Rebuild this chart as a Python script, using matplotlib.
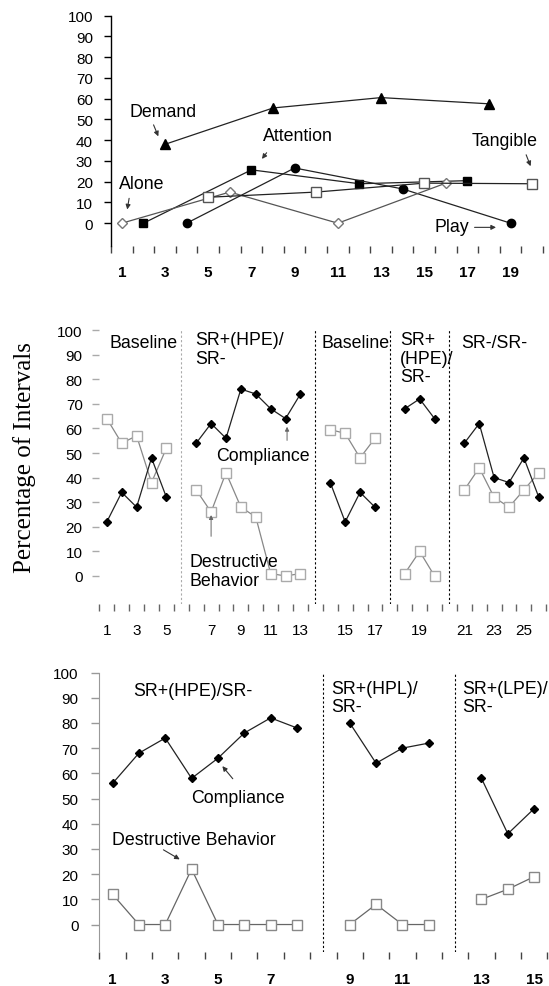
import matplotlib
matplotlib.use("Agg")
import numpy as np
import matplotlib.pyplot as plt

plt.rcParams['font.family'] = ['Liberation Sans', 'DejaVu Sans']

# ---- panel 1: functional analysis ----
demand_x = [3, 8, 13, 18]
demand = [38, 55.5, 60.5, 57.5]
attention_x = [2, 7, 12, 17]
attention = [0, 25.7, 19, 20.5]
play_x = [4, 9, 14, 19]
play = [0, 26.6, 16.5, 0]
alone_x = [1, 6, 11, 16]
alone = [0, 15, 0, 19.3]
tangible_x = [5, 10, 15, 20]
tangible = [12.5, 15, 19.3, 19]
p1_ticks = [1, 3, 5, 7, 9, 11, 13, 15, 17, 19]

# ---- panel 2: sessions split by phase ----
p2_phase_names = ['Baseline', 'SR+(HPE)/\nSR-', 'Baseline', 'SR+\n(HPE)/\nSR-', 'SR-/SR-']
p2_compliance = [[22, 34, 28, 48, 32],
                 [54, 62, 56, 76, 74, 68, 64, 74],
                 [38, 22, 34, 28],
                 [68, 72, 64],
                 [54, 62, 40, 38, 48, 32]]
p2_destructive = [[64, 54, 57, 38, 52],
                  [35, 26, 42, 28, 24, 1, 0, 1],
                  [59.5, 58, 48, 56],
                  [1, 10, 0],
                  [35, 44, 32, 28, 35, 42]]
p2_labels = [1, 3, 5, 7, 9, 11, 13, 15, 17, 19, 21, 23, 25]

# ---- panel 3 ----
p3_phase_names = ['SR+(HPE)/SR-', 'SR+(HPL)/\nSR-', 'SR+(LPE)/\nSR-']
p3_compliance = [[56, 68, 74, 58, 66, 76, 82, 78],
                 [80, 64, 70, 72],
                 [58, 36, 46]]
p3_destructive = [[12, 0, 0, 22, 0, 0, 0, 0],
                  [0, 8, 0, 0],
                  [10, 14, 19]]
p3_labels = [1, 3, 5, 7, 9, 11, 13, 15]


def phase_positions(phases):
    # one empty slot between phases
    pos, s = [], 1
    for k, ph in enumerate(phases):
        pos.append([s + i + k for i in range(len(ph))])
        s += len(ph)
    return pos


def session_to_pos(phases, session):
    s = 1
    for k, ph in enumerate(phases):
        if session < s + len(ph):
            return session + k
        s += len(ph)


fig = plt.figure(figsize=(5.49, 9.87), dpi=100)

# ================= panel 1 =================
ax1 = fig.add_axes([0.2022, 0.7497, 0.787, 0.2335])
lc = '#222222'
ax1.plot(demand_x, demand, '-', color=lc, lw=0.9, marker='^', ms=6.5, mfc='black', mec='black', zorder=3)
ax1.plot(attention_x, attention, '-', color=lc, lw=0.9, marker='s', ms=6, mfc='black', mec='black', zorder=3)
ax1.plot(play_x, play, '-', color=lc, lw=0.9, marker='o', ms=6, mfc='black', mec='black', zorder=3)
ax1.plot(alone_x, alone, '-', color='#555555', lw=0.9, marker='D', ms=5, mfc='white', mec='#777777', zorder=3)
ax1.plot(tangible_x, tangible, '-', color=lc, lw=0.9, marker='s', ms=6.5, mfc='white', mec='#555555', zorder=3)

ax1.set_xlim(0.5, 20.5)
ax1.set_ylim(-11, 100)
ax1.set_yticks(range(0, 101, 10))
ax1.set_xticks(p1_ticks)
ax1.set_xticklabels([str(t) for t in p1_ticks], fontweight='bold', fontsize=11)
ax1.set_xticks(np.arange(0.5, 21, 1), minor=True)
ax1.tick_params(axis='x', which='major', length=0, pad=14)
ax1.tick_params(axis='x', which='minor', length=5, width=1, color='#444444')
ax1.tick_params(axis='y', length=5, width=1, labelsize=11, pad=8)
for sp in ['top', 'right', 'bottom']:
    ax1.spines[sp].set_visible(False)
ax1.spines['left'].set_linewidth(1)

arr = dict(arrowstyle='-|>', color='#333333', lw=0.8, mutation_scale=7)
ax1.text(2.9, 54, 'Demand', fontsize=12.8, ha='center', va='center')
ax1.annotate('', xy=(2.74, 40.6), xytext=(2.42, 48.6), arrowprops=arr)
ax1.text(9.16, 42.2, 'Attention', fontsize=12.8, ha='center', va='center')
ax1.annotate('', xy=(7.41, 29.9), xytext=(7.78, 35), arrowprops=arr)
ax1.text(18.7, 39.8, 'Tangible', fontsize=12.8, ha='center', va='center')
ax1.annotate('', xy=(19.97, 26.2), xytext=(19.67, 34.2), arrowprops=arr)
ax1.text(1.91, 19.3, 'Alone', fontsize=12.8, ha='center', va='center')
ax1.annotate('', xy=(1.23, 5.3), xytext=(1.36, 13.3), arrowprops=arr)
ax1.text(16.26, -1.6, 'Play', fontsize=12.8, ha='center', va='center')
ax1.annotate('', xy=(18.45, -2), xytext=(17.2, -2), arrowprops=arr)

# ================= panel 2 =================
ax2 = fig.add_axes([0.181, 0.3870, 0.814, 0.2776])
pos2 = phase_positions(p2_compliance)
for k in range(len(p2_compliance)):
    ax2.plot(pos2[k], p2_destructive[k], '-', color='#888888', lw=0.9, marker='s', ms=6.5,
             mfc='white', mec='#aaaaaa', zorder=2)
    ax2.plot(pos2[k], p2_compliance[k], '-', color='#222222', lw=0.9, marker='D', ms=4.5,
             mfc='black', mec='black', zorder=3)

# phase change lines
for k in range(1, len(pos2)):
    xv = pos2[k][0] - 1
    col = '#aaaaaa' if k == 1 else 'black'
    ax2.plot([xv, xv], [-11.4, 100], color=col, lw=0.8, ls=(0, (2, 2)), zorder=1)

ax2.set_xlim(0.5, 30.5)
ax2.set_ylim(-11.4, 100)
ax2.set_yticks(range(0, 101, 10))
ax2.set_xticks([session_to_pos(p2_compliance, s) for s in p2_labels])
ax2.set_xticklabels([str(s) for s in p2_labels], fontsize=11)
ax2.set_xticks(np.arange(0.5, 31, 1), minor=True)
ax2.tick_params(axis='x', which='major', length=0, pad=14)
ax2.tick_params(axis='x', which='minor', length=5, width=1, color='#666666')
ax2.tick_params(axis='y', length=5, width=1, color='#aaaaaa', labelsize=11, pad=7)
for sp in ['top', 'right', 'bottom', 'left']:
    ax2.spines[sp].set_visible(False)

ax2.text(1.19, 95, p2_phase_names[0], fontsize=12.8, ha='left', va='center')
ax2.text(6.9, 99.5, p2_phase_names[1], fontsize=12.8, ha='left', va='top', linespacing=1.1)
ax2.text(15.4, 95, p2_phase_names[2], fontsize=12.8, ha='left', va='center')
ax2.text(20.7, 99.5, p2_phase_names[3], fontsize=12.8, ha='left', va='top', linespacing=1.1)
ax2.text(24.8, 95, p2_phase_names[4], fontsize=12.8, ha='left', va='center')

arr2 = dict(arrowstyle='-|>', color='#666666', lw=0.7, mutation_scale=6)
ax2.text(11.46, 48.9, 'Compliance', fontsize=12.8, ha='center', va='center')
ax2.annotate('', xy=(13.1, 61.8), xytext=(13.1, 54), arrowprops=arr2)
ax2.text(6.52, 9.2, 'Destructive\nBehavior', fontsize=12.8, ha='left', va='top',
         linespacing=1.1)
ax2.annotate('', xy=(8.0, 25.9), xytext=(8.0, 15), arrowprops=arr2)

fig.text(0.045, 0.536, 'Percentage of Intervals', rotation=90, fontsize=18,
         family=['Liberation Serif', 'DejaVu Serif'], ha='center', va='center')

# ================= panel 3 =================
ax3 = fig.add_axes([0.181, 0.0342, 0.816, 0.2834])
pos3 = phase_positions(p3_compliance)
for k in range(len(p3_compliance)):
    ax3.plot(pos3[k], p3_destructive[k], '-', color='#666666', lw=0.9, marker='s', ms=6.5,
             mfc='white', mec='#888888', zorder=2)
    ax3.plot(pos3[k], p3_compliance[k], '-', color='#222222', lw=0.9, marker='D', ms=4,
             mfc='black', mec='black', zorder=3)
for k in range(1, len(pos3)):
    xv = pos3[k][0] - 1
    ax3.plot([xv, xv], [-11, 100], color='black', lw=0.8, ls=(0, (2, 2)), zorder=1)

ax3.set_xlim(0.5, 17.5)
ax3.set_ylim(-11, 100)
ax3.set_yticks(range(0, 101, 10))
ax3.set_xticks([session_to_pos(p3_compliance, s) for s in p3_labels])
ax3.set_xticklabels([str(s) for s in p3_labels], fontweight='bold', fontsize=11)
ax3.set_xticks(np.arange(0.5, 18, 1), minor=True)
ax3.tick_params(axis='x', which='major', length=0, pad=14)
ax3.tick_params(axis='x', which='minor', length=5, width=1, color='#444444')
ax3.tick_params(axis='y', length=6, width=1, color='#999999', labelsize=11, pad=9)
for sp in ['top', 'right', 'bottom']:
    ax3.spines[sp].set_visible(False)
ax3.spines['left'].set_color('#999999')

ax3.text(1.78, 92.8, p3_phase_names[0], fontsize=12.8, ha='left', va='center')
ax3.text(9.29, 97, p3_phase_names[1], fontsize=12.8, ha='left', va='top', linespacing=1.05)
ax3.text(14.27, 97, p3_phase_names[2], fontsize=12.8, ha='left', va='top', linespacing=1.05)

ax3.text(5.76, 50.5, 'Compliance', fontsize=12.8, ha='center', va='center')
ax3.annotate('', xy=(5.1, 63.7), xytext=(5.63, 57), arrowprops=arr)
ax3.text(4.09, 33.9, 'Destructive Behavior', fontsize=12.8, ha='center', va='center')
ax3.annotate('', xy=(3.64, 25.3), xytext=(2.84, 30.2), arrowprops=arr)

fig.savefig('out.png', dpi=100)
